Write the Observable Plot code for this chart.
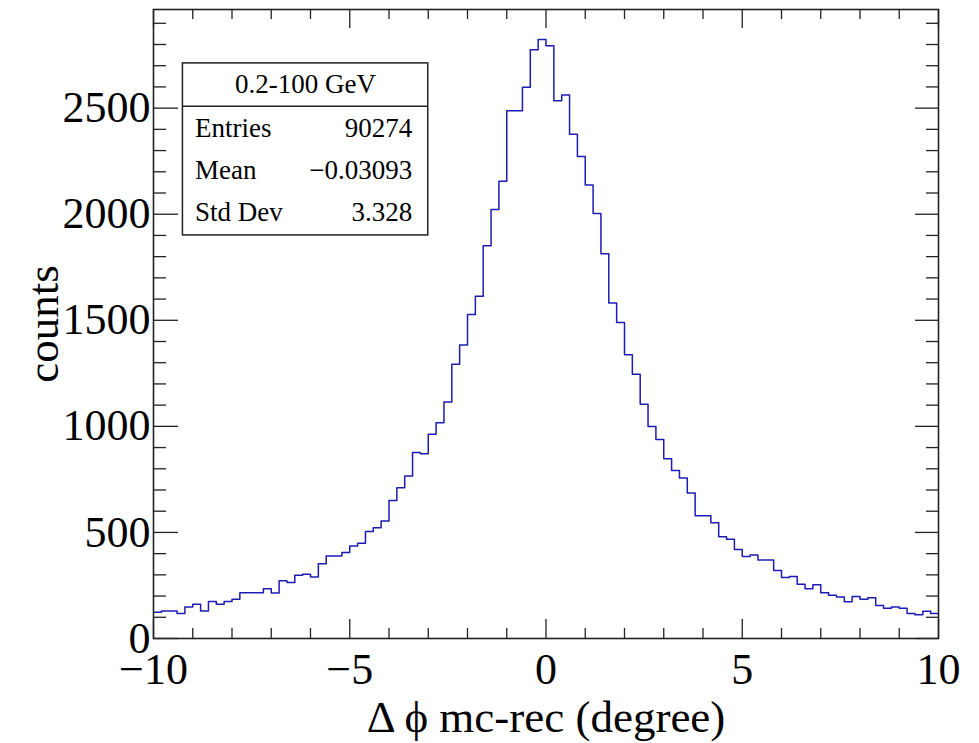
<!DOCTYPE html>
<html>
<head>
<meta charset="utf-8">
<script src="https://cdn.jsdelivr.net/npm/d3@7"></script>
<script src="https://cdn.jsdelivr.net/npm/@observablehq/plot@0.6"></script>
<style>
  html, body { margin: 0; padding: 0; background: #ffffff; }
  #chart { width: 979px; height: 743px; }
</style>
</head>
<body>
<div id="chart"></div>
<script>
// ---------- data ----------
const binLow = -10;          // histogram range start
const binWidth = 0.2;        // 100 bins over [-10, 10]
const binCounts = [
  124, 130, 130, 118, 149, 162, 130, 174, 162, 174,
  185, 216, 216, 216, 235, 215, 272, 264, 298, 303,
  290, 352, 389, 389, 405, 436, 449, 504, 522, 554,
  651, 711, 766, 877, 871, 963, 1017, 1115, 1293, 1384,
  1527, 1613, 1851, 2022, 2155, 2488, 2488, 2598, 2775, 2824,
  2794, 2535, 2562, 2377, 2272, 2138, 2003, 1814, 1581, 1489,
  1337, 1246, 1104, 999, 938, 847, 792, 756, 686, 579,
  579, 546, 480, 468, 420, 386, 394, 370, 370, 320,
  287, 292, 256, 235, 253, 216, 204, 196, 173, 198,
  185, 192, 155, 143, 149, 143, 118, 112, 129, 118
];
const xTickLabels = [-10, -5, 0, 5, 10];
const yTickLabels = [0, 500, 1000, 1500, 2000, 2500];
const statTitle = "0.2-100 GeV";
const statNames = ["Entries", "Mean", "Std Dev"];
const statValues = ["90274", "\u22120.03093", "3.328"];
const xTitle = "\u0394 \u03D5 mc-rec (degree)";
const yTitle = "counts";

// ---------- layout ----------
const W = 979, H = 743;
const mL = 153, mR = 41, mT = 9, mB = 105;
const plotW = W - mL - mR, plotH = H - mT - mB;
const yMax = 2965;
const lineColor = "#1c1cb4";
const frameColor = "#222222";

// histogram outline points (bin low edges + final upper edge)
const steps = binCounts.map((c, i) => ({x: binLow + i * binWidth, y: c}));
steps.push({x: binLow + binCounts.length * binWidth, y: binCounts[binCounts.length - 1]});

const xMinor = d3.range(-10, 10.001, 1).filter(v => !xTickLabels.includes(v));
const yMinor = d3.range(100, yMax, 100).filter(v => v % 500 !== 0);

// stats box (data space annotation)
const box = {x1: -9.25, x2: -3.0, y1: 1900, y2: 2711, sep: 2509};
const rowY = [2404, 2208, 2010];
const statRows = statNames.map((n, i) => ({name: n, value: statValues[i], y: rowY[i]}));

const fmt = d3.format("d");

const chart = Plot.plot({
  width: W,
  height: H,
  marginLeft: mL,
  marginRight: mR,
  marginTop: mT,
  marginBottom: mB,
  style: {fontFamily: "'Liberation Serif', 'Times New Roman', serif", background: "#ffffff", color: "#000"},
  x: {domain: [-10, 10]},
  y: {domain: [0, yMax]},
  marks: [
    // histogram
    Plot.line(steps, {x: "x", y: "y", curve: "step-after", stroke: lineColor, strokeWidth: 1.5}),
    // ticks (inward, all four sides)
    Plot.tickX(xTickLabels, {x: d => d, insetTop: plotH - 19, stroke: frameColor, strokeWidth: 1.3}),
    Plot.tickX(xMinor, {x: d => d, insetTop: plotH - 10, stroke: frameColor, strokeWidth: 1.3}),
    Plot.tickX(xTickLabels, {x: d => d, insetBottom: plotH - 19, stroke: frameColor, strokeWidth: 1.3}),
    Plot.tickX(xMinor, {x: d => d, insetBottom: plotH - 10, stroke: frameColor, strokeWidth: 1.3}),
    Plot.tickY(yTickLabels, {y: d => d, insetRight: plotW - 25, stroke: frameColor, strokeWidth: 1.3}),
    Plot.tickY(yMinor, {y: d => d, insetRight: plotW - 13, stroke: frameColor, strokeWidth: 1.3}),
    Plot.tickY(yTickLabels, {y: d => d, insetLeft: plotW - 23, stroke: frameColor, strokeWidth: 1.3}),
    Plot.tickY(yMinor, {y: d => d, insetLeft: plotW - 12, stroke: frameColor, strokeWidth: 1.3}),
    Plot.frame({stroke: frameColor, strokeWidth: 1.6}),
    // tick labels
    Plot.axisX(xTickLabels, {anchor: "bottom", tickSize: 0, tickPadding: 14, fontSize: 44, tickFormat: fmt, label: null}),
    Plot.axisY(yTickLabels, {anchor: "left", tickSize: 0, tickPadding: 3, fontSize: 44, tickFormat: fmt, label: null}),
    // axis titles
    Plot.text([xTitle], {frameAnchor: "bottom", lineAnchor: "bottom", textAnchor: "middle", dy: 93, fontSize: 45, fill: "#000"}),
    Plot.text([yTitle], {frameAnchor: "left", lineAnchor: "bottom", textAnchor: "middle", dx: -96, rotate: -90, fontSize: 45, fill: "#000"}),
    // stats box
    Plot.rect([box], {x1: "x1", x2: "x2", y1: "y1", y2: "y2", fill: "#ffffff", stroke: frameColor, strokeWidth: 1.5}),
    Plot.ruleY([box.sep], {x1: box.x1, x2: box.x2, stroke: frameColor, strokeWidth: 1.5}),
    Plot.text([statTitle], {x: (box.x1 + box.x2) / 2, y: 2610, fontSize: 27, fill: "#000"}),
    Plot.text(statRows, {x: box.x1, y: "y", text: "name", textAnchor: "start", dx: 12, fontSize: 27, fill: "#000"}),
    Plot.text(statRows, {x: box.x2, y: "y", text: "value", textAnchor: "end", dx: -16, fontSize: 27, fill: "#000"})
  ]
});
document.getElementById("chart").appendChild(chart);
</script>
</body>
</html>
